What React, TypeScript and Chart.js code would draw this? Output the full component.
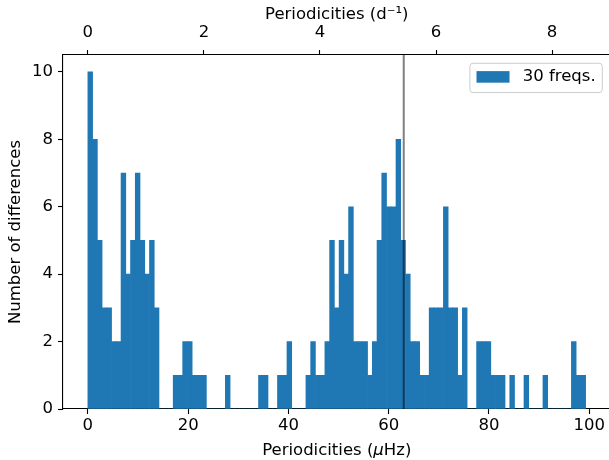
import React, { useEffect, useRef } from 'react';
import { Chart, registerables } from 'chart.js';

Chart.register(...registerables);

// Histogram of frequency differences (μHz)
const BIN_START = 0; // μHz, left edge of the first bin
const BIN_WIDTH = 0.9455; // μHz
const counts = [
  10, 8, 5, 3, 3, 2, 2, 7, 4, 5, 7, 5, 4, 5, 3,
  0, 0, 0, 1, 1, 2, 2, 1, 1, 1, 0, 0, 0, 0, 1,
  0, 0, 0, 0, 0, 0, 1, 1, 0, 0, 1, 1, 2, 0, 0,
  0, 1, 2, 1, 1, 2, 5, 3, 5, 4, 6, 2, 2, 2, 1,
  2, 5, 7, 6, 6, 8, 5, 4, 2, 2, 1, 1, 3, 3, 3,
  6, 3, 3, 1, 3, 0, 0, 2, 2, 2, 1, 1, 1, 0, 1,
  0, 0, 1, 0, 0, 0, 1, 0, 0, 0, 0, 0, 2, 1, 1,
];
const seriesLabel = '30 freqs.';
const markerFreq = 63.0; // μHz, vertical line
const UHZ_PER_CPD = 11.574; // 1 d^-1 in μHz

const X_MIN = -4.96;
const X_MAX = 104.24;
const Y_MIN = 0;
const Y_MAX = 10.5;
const xTickStep = 20;
const x2TickStep = 2;
const yTickStep = 2;

// bottom title pieces: [text, italic]
const xTitleParts: [string, boolean][] = [
  ['Periodicities (', false],
  ['μ', true],
  ['Hz)', false],
];
const x2Title = 'Periodicities (d⁻¹)';
const yTitle = 'Number of differences';

const FONT = 'DejaVu Sans';
const FS = 16.5;
const BLUE = '#1f77b4';

const legendPlugin = {
  id: 'boxLegend',
  afterDraw(chart: any) {
    const { ctx, chartArea } = chart;
    const ds = chart.data.datasets[0];
    ctx.save();
    ctx.font = `${FS}px "${FONT}"`;
    const tw = ctx.measureText(ds.label).width;
    const pad = 0.4 * FS;
    const hl = 2 * FS;
    const hh = 0.7 * FS;
    const tp = 0.8 * FS;
    const w = pad + hl + tp + tw + pad;
    const h = 29.3;
    const right = chartArea.right - 0.5 * FS;
    const left = right - w;
    const top = chartArea.top + 0.5 * FS;
    const r = 3;
    ctx.beginPath();
    ctx.moveTo(left + r, top);
    ctx.lineTo(left + w - r, top);
    ctx.quadraticCurveTo(left + w, top, left + w, top + r);
    ctx.lineTo(left + w, top + h - r);
    ctx.quadraticCurveTo(left + w, top + h, left + w - r, top + h);
    ctx.lineTo(left + r, top + h);
    ctx.quadraticCurveTo(left, top + h, left, top + h - r);
    ctx.lineTo(left, top + r);
    ctx.quadraticCurveTo(left, top, left + r, top);
    ctx.closePath();
    ctx.fillStyle = 'rgba(255,255,255,0.8)';
    ctx.fill();
    ctx.strokeStyle = '#cccccc';
    ctx.lineWidth = 1;
    ctx.stroke();
    const cy = top + h / 2 - 1;
    ctx.fillStyle = ds.backgroundColor;
    ctx.fillRect(left + pad, cy - hh / 2, hl, hh);
    ctx.fillStyle = '#000';
    ctx.textBaseline = 'middle';
    ctx.textAlign = 'left';
    ctx.fillText(ds.label, left + pad + hl + tp, cy);
    ctx.restore();
  },
};

// bottom axis title with an italic mu, centred under the chart area
const xTitlePlugin = {
  id: 'xTitleMixed',
  afterDraw(chart: any) {
    const { ctx, chartArea } = chart;
    ctx.save();
    ctx.fillStyle = '#000';
    ctx.textBaseline = 'middle';
    ctx.textAlign = 'left';
    const fontFor = (it: boolean) => `${it ? 'italic ' : ''}${FS}px "${FONT}"`;
    let total = 0;
    const widths = xTitleParts.map(([t, it]) => {
      ctx.font = fontFor(it);
      const wv = ctx.measureText(t).width;
      total += wv;
      return wv;
    });
    let x = (chartArea.left + chartArea.right) / 2 - total / 2;
    const y = 451;
    xTitleParts.forEach(([t, it], i) => {
      ctx.font = fontFor(it);
      ctx.fillText(t, x, y);
      x += widths[i];
    });
    ctx.restore();
  },
};

export default function App() {
  const ref = useRef<HTMLCanvasElement | null>(null);

  useEffect(() => {
    document.body.style.margin = '0';
    const canvas = ref.current!;
    const barData = counts.map((c, i) => ({ x: BIN_START + (i + 0.5) * BIN_WIDTH, y: c }));
    const lineData = [
      { x: markerFreq, y: Y_MIN },
      { x: markerFreq, y: Y_MAX },
    ];
    const tickFont = { family: FONT, size: FS };
    const gridCfg = {
      display: true,
      drawOnChartArea: false,
      drawTicks: true,
      tickLength: 5,
      tickWidth: 1.1,
      tickColor: '#000',
      offset: false,
    };
    const borderCfg = { display: true, color: '#000', width: 1.1 };

    const chart = new Chart(canvas, {
      type: 'bar',
      data: {
        datasets: [
          {
            type: 'bar',
            label: seriesLabel,
            data: barData as any,
            backgroundColor: BLUE,
            borderWidth: 0,
            barPercentage: 1,
            categoryPercentage: 1,
            xAxisID: 'x',
            yAxisID: 'y',
            order: 1,
          } as any,
          {
            type: 'line',
            label: 'marker',
            data: lineData as any,
            borderColor: 'rgba(0,0,0,0.5)',
            borderWidth: 2,
            pointRadius: 0,
            fill: false,
            xAxisID: 'x',
            yAxisID: 'y',
            order: 0,
          } as any,
        ],
      },
      options: {
        responsive: false,
        animation: false,
        devicePixelRatio: 1,
        events: [],
        layout: { padding: { left: 0, right: 4.5, top: 0, bottom: 0 } },
        plugins: {
          legend: { display: false },
          tooltip: { enabled: false },
        },
        scales: {
          x: {
            type: 'linear',
            position: 'bottom',
            min: X_MIN,
            max: X_MAX,
            bounds: 'ticks',
            offset: false,
            ticks: {
              stepSize: xTickStep,
              includeBounds: false,
              color: '#000',
              font: tickFont,
              padding: 2,
              maxRotation: 0,
            },
            grid: gridCfg,
            border: borderCfg,
            title: { display: false },
            afterFit: (s: any) => {
              s.height = 51;
            },
          },
          x2: {
            type: 'linear',
            position: 'top',
            min: X_MIN / UHZ_PER_CPD,
            max: X_MAX / UHZ_PER_CPD,
            bounds: 'ticks',
            offset: false,
            ticks: {
              stepSize: x2TickStep,
              includeBounds: false,
              color: '#000',
              font: tickFont,
              padding: 7,
              maxRotation: 0,
            },
            grid: gridCfg,
            border: borderCfg,
            title: {
              display: true,
              text: x2Title,
              color: '#000',
              font: tickFont,
              padding: { top: 5, bottom: 0 },
            },
            afterFit: (s: any) => {
              s.height = 55;
            },
          },
          y: {
            type: 'linear',
            position: 'left',
            min: Y_MIN,
            max: Y_MAX,
            bounds: 'ticks',
            ticks: {
              stepSize: yTickStep,
              includeBounds: false,
              color: '#000',
              font: tickFont,
              padding: 5,
            },
            grid: gridCfg,
            border: borderCfg,
            title: {
              display: true,
              text: yTitle,
              color: '#000',
              font: tickFont,
              padding: { top: 6, bottom: 0 },
            },
            afterFit: (s: any) => {
              s.width = 63;
            },
          },
        },
      } as any,
      plugins: [legendPlugin, xTitlePlugin],
    });
    return () => chart.destroy();
  }, []);

  return (
    <div
      style={{
        position: 'fixed',
        left: 0,
        top: 0,
        width: 609,
        height: 460,
        overflow: 'hidden',
        background: '#fff',
      }}
    >
      <canvas ref={ref} width={615} height={460} style={{ width: 615, height: 460, display: 'block' }} />
    </div>
  );
}
